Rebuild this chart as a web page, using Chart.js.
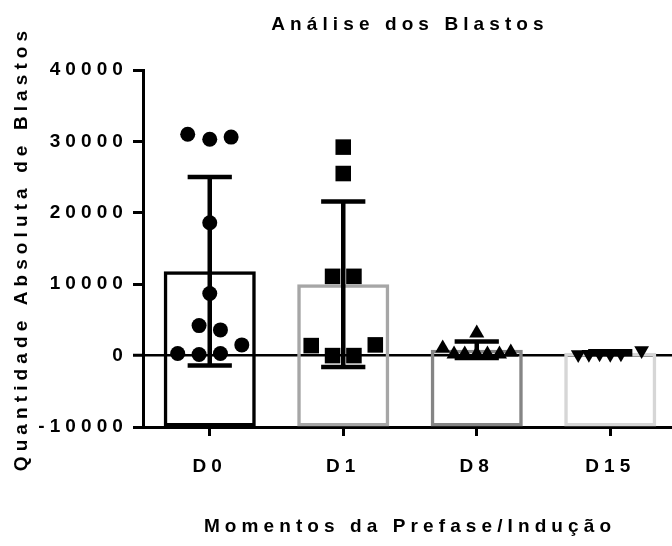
<!DOCTYPE html>
<html>
<head>
<meta charset="utf-8">
<script src="https://cdn.jsdelivr.net/npm/chart.js@4.4.0/dist/chart.umd.min.js"></script>
<style>
  html, body { margin: 0; padding: 0; background: #fff; overflow: hidden; }
  canvas { display: block; }
</style>
</head>
<body>
<canvas id="chart" width="690" height="546"></canvas>
<script>
const categories = ['D0', 'D1', 'D8', 'D15'];
const means = [11800, 10000, 820, 400];
const sds = [13200, 11600, 1150, 220];
const yTicks = [-10000, 0, 10000, 20000, 30000, 40000];

// individual values per moment, with the horizontal spread (in category units)
const d0Values = [31000, 30300, 30600, 18600, 8700, 4200, 3600, 1500, 300, 150, 300];
const d0Spread = [-0.165, 0, 0.16, 0, 0, -0.08, 0.08, 0.24, -0.24, -0.08, 0.08];
const d1Values = [29200, 25500, 11100, 11100, 1400, 1500, 0, 0];
const d1Spread = [0, 0, -0.08, 0.08, -0.24, 0.24, -0.08, 0.08];
const d8Values = [1030, 200, 200, 200, 200, 200, 480, 3130];
const d8Spread = [-0.255, -0.17, -0.09, 0, 0.08, 0.17, 0.255, 0];
const d15Values = [150, 200, 250, 200, 250, 700];
const d15Spread = [-0.24, -0.16, -0.08, 0, 0.08, 0.235];

const barColors = ['#000000', '#a6a6a6', '#858585', '#d6d6d6'];
const FONT = { family: '"Liberation Sans", Arial, sans-serif', size: 19, weight: 'bold' };

function points(values, spread, idx) {
  return values.map((v, i) => ({ x: idx + spread[i], y: v }));
}

function pointSet(values, spread, idx, style, radius, rotation) {
  return {
    type: 'scatter',
    xAxisID: 'xs',
    yAxisID: 'y',
    data: points(values, spread, idx),
    pointStyle: style,
    pointRadius: radius,
    pointRotation: rotation || 0,
    backgroundColor: '#000',
    borderColor: '#000',
    borderWidth: 0,
    order: 1
  };
}

const spacing = {
  id: 'spacing',
  beforeLayout(chart) { chart.ctx.letterSpacing = '5.1px'; },
  beforeDraw(chart) { chart.ctx.letterSpacing = '5.1px'; }
};

const errorBars = {
  id: 'errorBars',
  afterDatasetDraw(chart, args) {
    if (args.index !== 0) return;
    const ctx = chart.ctx;
    const y = chart.scales.y;
    args.meta.data.forEach((bar, i) => {
      const top = y.getPixelForValue(means[i] + sds[i]);
      const bottom = y.getPixelForValue(means[i] - sds[i]);
      const half = bar.width * 0.24;
      ctx.save();
      ctx.strokeStyle = '#000';
      ctx.lineWidth = 4.5;
      ctx.beginPath();
      ctx.moveTo(bar.x, top);
      ctx.lineTo(bar.x, bottom);
      ctx.moveTo(bar.x - half, top);
      ctx.lineTo(bar.x + half, top);
      ctx.moveTo(bar.x - half, bottom);
      ctx.lineTo(bar.x + half, bottom);
      ctx.stroke();
      ctx.restore();
    });
  }
};

new Chart(document.getElementById('chart'), {
  type: 'bar',
  data: {
    labels: categories,
    datasets: [
      {
        data: means,
        base: -10000,
        grouped: false,
        backgroundColor: 'rgba(0,0,0,0)',
        borderColor: barColors,
        borderWidth: 3.5,
        borderSkipped: false,
        barPercentage: 0.69,
        categoryPercentage: 1,
        order: 2
      },
      pointSet(d0Values, d0Spread, 0, 'circle', 7.5),
      pointSet(d1Values, d1Spread, 1, 'rect', 11),
      pointSet(d8Values, d8Spread, 2, 'triangle', 8.7),
      pointSet(d15Values, d15Spread, 3, 'triangle', 8.5, 180)
    ]
  },
  options: {
    responsive: false,
    animation: false,
    layout: { padding: { left: 0, right: 13, top: 0, bottom: 0 } },
    plugins: {
      legend: { display: false },
      tooltip: { enabled: false },
      title: {
        display: true,
        text: 'Análise dos Blastos',
        color: '#000',
        font: FONT,
        fullSize: false,
        padding: { top: 13, bottom: 34.2 }
      }
    },
    scales: {
      x: {
        type: 'category',
        offset: true,
        border: { color: '#000', width: 3 },
        grid: {
          display: true,
          drawOnChartArea: false,
          offset: false,
          tickLength: 9,
          tickWidth: 3,
          tickColor: '#000',
          color: '#000'
        },
        ticks: { color: '#000', font: FONT, padding: 19 },
        title: {
          display: true,
          text: 'Momentos da Prefase/Indução',
          color: '#000',
          font: FONT,
          padding: { bottom: 7.6 }
        },
        afterFit(scale) { scale.height = 119; }
      },
      xs: {
        type: 'linear',
        display: false,
        min: -0.5,
        max: 3.5,
        offset: false
      },
      y: {
        min: -10000,
        max: 40000,
        border: { color: '#000', width: 3 },
        grid: {
          color: c => (c.tick && c.tick.value === 0 ? '#000' : 'rgba(0,0,0,0)'),
          lineWidth: c => (c.tick && c.tick.value === 0 ? 2.5 : 1),
          tickColor: '#000',
          tickLength: 10,
          tickWidth: 3
        },
        ticks: { color: '#000', font: FONT, padding: 5, callback: v => String(v) },
        afterBuildTicks(scale) { scale.ticks = yTicks.map(v => ({ value: v })); },
        title: {
          display: true,
          text: 'Quantidade Absoluta de Blastos',
          color: '#000',
          font: FONT,
          padding: { top: 10.6 }
        },
        afterFit(scale) { scale.width = 143; }
      }
    }
  },
  plugins: [spacing, errorBars]
});
</script>
</body>
</html>
